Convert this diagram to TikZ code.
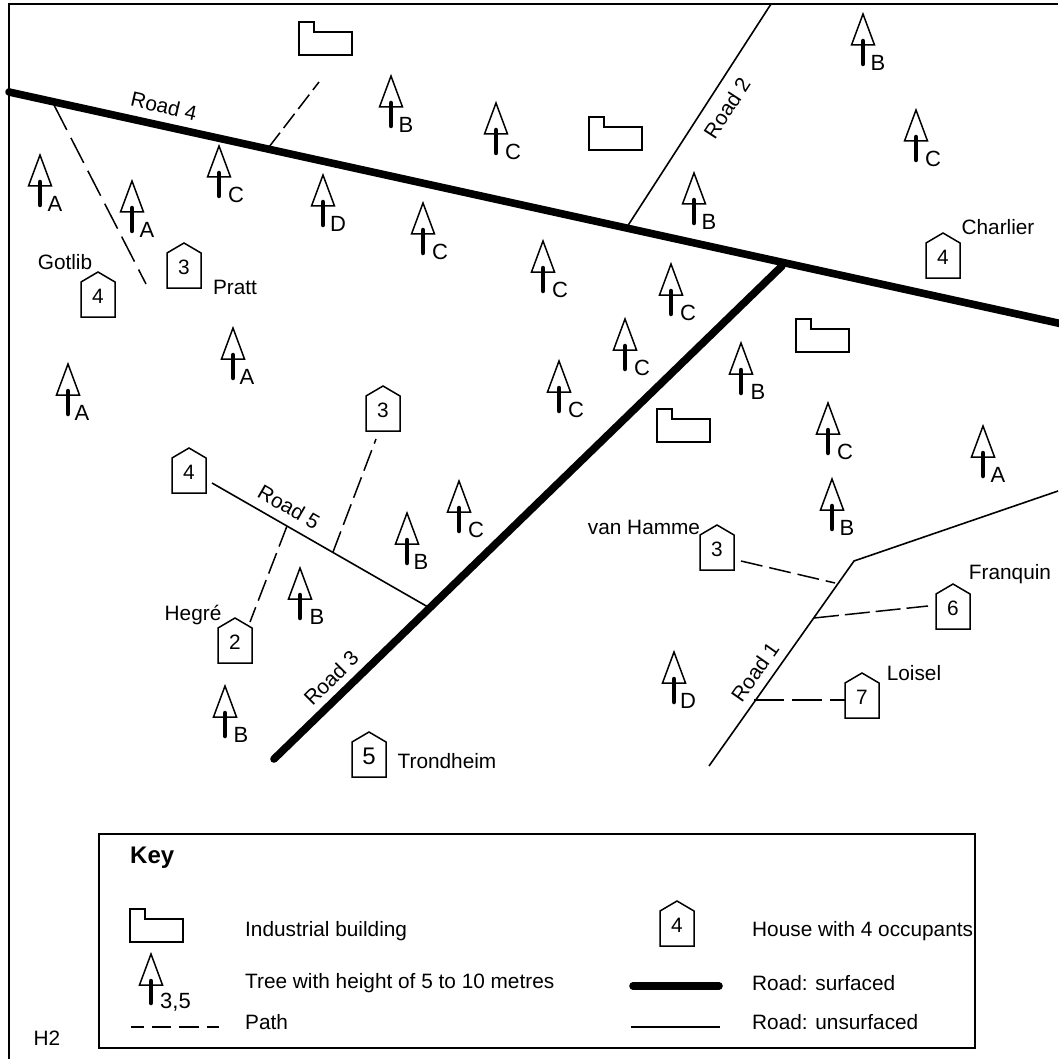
\documentclass[tikz,border=0pt]{standalone}
\usepackage{fontspec}
\setmainfont{Liberation Sans}
\tikzset{
  thinline/.style={draw=black,line width=1.5pt},
  thinroad/.style={draw=black,line width=1.6pt},
  thickroad/.style={draw=black,line width=7.6pt,line cap=round},
  footpath/.style={draw=black,line width=1.5pt,dash pattern=on 22pt off 7pt},
  lbl/.style={font=\fontsize{20.8}{24}\selectfont,inner sep=0pt},
  treelbl/.style={font=\fontsize{22}{24}\selectfont,inner sep=0pt},
  roadlbl/.style={lbl,fill=none},
}
\newcommand{\treemark}[4][15]{%
  \draw[thinline,line join=miter,fill=white] (#3,#4) -- ({#3+11.5},{#4+31}) -- ({#3-11.5},{#4+31}) -- cycle;
  \draw[draw=black,line width=4.5pt,line cap=round] (#3,{#4+27}) -- (#3,{#4+50});
  \node[treelbl] (tree#2) at ({#3+#1},{#4+49}) {#2};}
\newcommand{\housemark}[5][20.8]{% size, name, apex x, apex y, number
  \draw[thinline,fill=white] (#3,#4) -- ({#3+17},{#4+10}) -- ({#3+17},{#4+45}) -- ({#3-17},{#4+45}) -- ({#3-17},{#4+10}) -- cycle;
  \node[inner sep=0pt,font=\fontsize{#1}{24}\selectfont] (#2) at (#3,{#4+24}) {#5};}
\newcommand{\buildmark}[2]{%
  \draw[thinline] (#1,#2) -- ({#1+15},#2) -- ({#1+15},{#2+10}) -- ({#1+53},{#2+10}) -- ({#1+53},{#2+33}) -- (#1,{#2+33}) -- cycle;}
\begin{document}
\begin{tikzpicture}[x=1pt,y=-1pt]
\useasboundingbox (0,0) rectangle (1058,1059);
\fill[white] (0,0) rectangle (1058,1059);
% frame
\draw[thinline] (9,1059) -- (9,4) -- (1058,4);
% coordinates
\coordinate (r4a) at (9,92); \coordinate (r4b) at (1060,323.5);
\coordinate (r3a) at (274,759); \coordinate (r3b) at (782,266);
\coordinate (r2a) at (627,227); \coordinate (r2b) at (771,4);
\coordinate (r5a) at (212,483); \coordinate (r5b) at (428,607);
\coordinate (r1a) at (709,766); \coordinate (r1b) at (854,561); \coordinate (r1c) at (1058,491);
% roads
\draw[thickroad] (r4a) -- (r4b);
\draw[thickroad] (r3a) -- (r3b);
\draw[thinroad] (r2a) -- (r2b);
\draw[thinroad] (r5a) -- (r5b);
\draw[thinroad] (r1a) -- (r1b) -- (r1c);
% paths
\coordinate (p1a) at (54,105); \coordinate (p1b) at (146,284);
\coordinate (p2a) at (269,147); \coordinate (p2b) at (319,82);
\coordinate (p3a) at (287,526); \coordinate (p3b) at (250,622);
\coordinate (p4a) at (333,552); \coordinate (p4b) at (376,439);
\coordinate (p5a) at (741,561); \coordinate (p5b) at (835,583);
\coordinate (p6a) at (814,618); \coordinate (p6b) at (928,606);
\coordinate (p7a) at (754,700); \coordinate (p7b) at (848,700);
\draw[footpath,dash pattern=on 28pt off 9pt] (p1a) -- (p1b);
\draw[footpath,dash pattern=on 18pt off 6pt] (p2a) -- (p2b);
\draw[footpath] (p3a) -- (p3b);
\draw[footpath] (p4a) -- (p4b);
\draw[footpath] (p5a) -- (p5b);
\draw[footpath,dash pattern=on 25pt off 6pt] (p6a) -- (p6b);
\draw[footpath,dash pattern=on 30pt off 8pt] (p7a) -- (p7b);
% road labels
\node[roadlbl,rotate=-13] (lr4) at (164,106) {Road 4};
\node[roadlbl,rotate=57] (lr2) at (727,108) {Road 2};
\node[roadlbl,rotate=-30] (lr5) at (289,507) {Road 5};
\node[roadlbl,rotate=45] (lr3) at (331,678) {Road 3};
\node[roadlbl,rotate=55] (lr1) at (755,672) {Road 1};
% trees
\treemark{A}{40}{155}
\treemark{A}{132}{181}
\treemark[17]{C}{219}{146}
\treemark{D}{323}{175}
\treemark{B}{391}{76}
\treemark[17]{C}{496}{103}
\treemark[17]{C}{423}{203}
\treemark[17]{C}{543}{241}
\treemark[17]{C}{671}{264}
\treemark[17]{C}{625}{319}
\treemark[17]{C}{559}{361}
\treemark{B}{694}{173}
\treemark{B}{863}{14}
\treemark[17]{C}{916}{110}
\treemark[17]{B}{741}{343}
\treemark[17]{C}{828}{403}
\treemark{A}{983}{426}
\treemark{B}{832}{479}
\treemark[17]{C}{459}{481}
\treemark[14]{B}{407}{513}
\treemark[17]{B}{300}{568}
\treemark[16]{B}{225}{686}
\treemark[14]{A}{233}{328}
\treemark[14]{A}{68}{364}
\treemark[14]{D}{674}{652}
% houses
\housemark{hgot}{98}{272}{4}
\housemark{hpra}{184}{243}{3}
\housemark{hcha}{943}{233}{4}
\housemark{hmid}{383}{386}{3}
\housemark{hrfv}{189}{448}{4}
\housemark{hvan}{717}{525}{3}
\housemark{hfra}{953}{584}{6}
\housemark{hloi}{862}{673}{7}
\housemark{hheg}{235}{618}{2}
\housemark[24]{htro}{369}{732}{5}
% buildings
\buildmark{299}{22}
\buildmark{589}{117}
\buildmark{796}{319}
\buildmark{657}{409}
% names
\node[lbl] (ngot) at (65,262) {Gotlib};
\node[lbl] (npra) at (235,287) {Pratt};
\node[lbl] (ncha) at (998,227) {Charlier};
\node[lbl] (nvan) at (644,527) {van Hamme};
\node[lbl] (nfra) at (1010,574) {Franquin};
\node[lbl] (nloi) at (914,673) {Loisel};
\node[lbl] (nheg) at (193,615) {Hegré};
\node[lbl] (ntro) at (447,761) {Trondheim};
% key
\draw[thinline,line width=1.6pt] (99,834) rectangle (975,1048);
\node[inner sep=0pt,font=\fontsize{24}{28}\selectfont\bfseries,anchor=west] (kkey) at (130,858) {Key};
\buildmark{130}{909}
\node[lbl,anchor=west] (k1) at (245,931) {Industrial building};
\draw[thinline,line join=miter,fill=white] (151,954) -- (162.5,985) -- (139.5,985) -- cycle;
\draw[draw=black,line width=4.5pt,line cap=round] (151,981) -- (151,1003);
\node[treelbl,anchor=west] (k35) at (160,1002) {3,5};
\node[lbl,anchor=west] (k2) at (245,983) {Tree with height of 5 to 10 metres};
\coordinate (kpa) at (131,1027); \coordinate (kpb) at (219,1027);
\draw[footpath,dash pattern=on 13pt off 8pt on 19pt off 8pt on 20pt off 8pt on 12pt off 8pt] (kpa) -- (kpb);
\node[lbl,anchor=west] (k3) at (245,1022) {Path};
\housemark{hkey}{677}{901}{4}
\node[lbl,anchor=west] (k4) at (752,931) {House with 4 occupants};
\coordinate (ksa) at (633,986); \coordinate (ksb) at (719,986);
\draw[thickroad] (ksa) -- (ksb);
\node[lbl,anchor=west] (k5) at (752,983) {Road: surfaced};
\coordinate (kua) at (631,1027); \coordinate (kub) at (720,1027);
\draw[thinroad] (kua) -- (kub);
\node[lbl,anchor=west] (k6) at (752,1022) {Road: unsurfaced};
\node[lbl] (nh2) at (47,1038) {H2};
\end{tikzpicture}
\end{document}
